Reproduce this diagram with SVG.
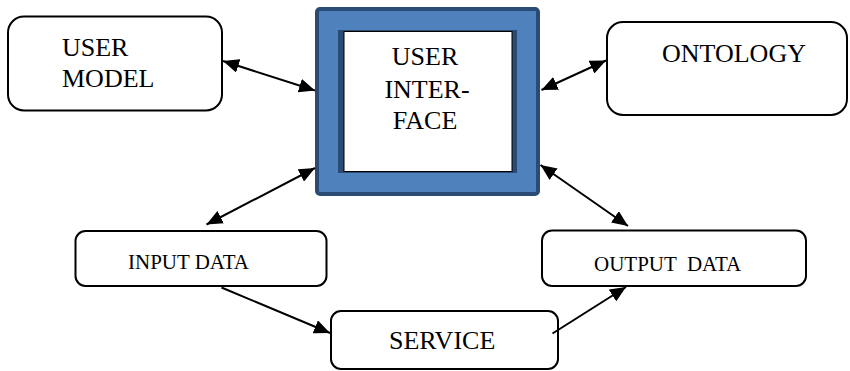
<svg xmlns="http://www.w3.org/2000/svg" width="850" height="371" viewBox="0 0 850 371">
  <style>
    .box { fill: #ffffff; stroke: #000000; stroke-width: 2; }
    .lbl { font-family: "Liberation Serif", "Times New Roman", serif; fill: #000000; }
    .big { font-size: 26px; }
    .small { font-size: 21px; }
    .link { stroke: #000000; stroke-width: 2; fill: none; }
  </style>
  <defs>
    <marker id="head" viewBox="0 0 16 14" refX="16" refY="7" markerWidth="16" markerHeight="14" markerUnits="userSpaceOnUse" orient="auto-start-reverse">
      <path d="M0,0 L16,7 L0,14 z" fill="#000000"/>
    </marker>
  </defs>
  <rect width="850" height="371" fill="#ffffff"/>

  <g id="user-model">
    <rect class="box" x="8" y="16.5" width="214" height="94" rx="16"/>
    <text class="lbl big" x="62" y="56">USER</text>
    <text class="lbl big" x="62" y="87">MODEL</text>
  </g>

  <g id="user-interface">
    <rect x="317" y="9" width="221" height="185" rx="3" fill="#4F81BD" stroke="#2A4B73" stroke-width="4"/>
    <rect x="338" y="30" width="179" height="143" fill="#2A4B73"/>
    <rect x="344" y="31.5" width="168" height="140" fill="#ffffff" stroke="#000000" stroke-width="1"/>
    <text class="lbl big" x="425" y="65" text-anchor="middle">USER</text>
    <text class="lbl big" x="427" y="98" text-anchor="middle">INTER-</text>
    <text class="lbl big" x="425" y="129" text-anchor="middle">FACE</text>
  </g>

  <g id="ontology">
    <rect class="box" x="607" y="22" width="240" height="93" rx="16"/>
    <text class="lbl big" x="662" y="62">ONTOLOGY</text>
  </g>

  <g id="input-data">
    <rect class="box" x="75.5" y="231" width="251" height="55" rx="10"/>
    <text class="lbl small" x="128" y="269">INPUT DATA</text>
  </g>

  <g id="output-data">
    <rect class="box" x="542" y="230.5" width="264" height="55.5" rx="10"/>
    <text class="lbl small" x="594" y="270.5" xml:space="preserve">OUTPUT  DATA</text>
  </g>

  <g id="service">
    <rect class="box" x="331" y="311" width="227" height="58" rx="10"/>
    <text class="lbl big" x="389" y="349">SERVICE</text>
  </g>

  <g id="connectors">
    <line class="link" x1="223" y1="61" x2="315" y2="90.5" marker-start="url(#head)" marker-end="url(#head)"/>
    <line class="link" x1="541.5" y1="90" x2="606" y2="60.5" marker-start="url(#head)" marker-end="url(#head)"/>
    <line class="link" x1="315" y1="168" x2="206.5" y2="224.5" marker-start="url(#head)" marker-end="url(#head)"/>
    <line class="link" x1="540.5" y1="165" x2="628" y2="226" marker-start="url(#head)" marker-end="url(#head)"/>
    <line class="link" x1="221.5" y1="287.5" x2="330" y2="333" marker-end="url(#head)"/>
    <line class="link" x1="552.5" y1="333.5" x2="626" y2="287" marker-end="url(#head)"/>
  </g>
</svg>
